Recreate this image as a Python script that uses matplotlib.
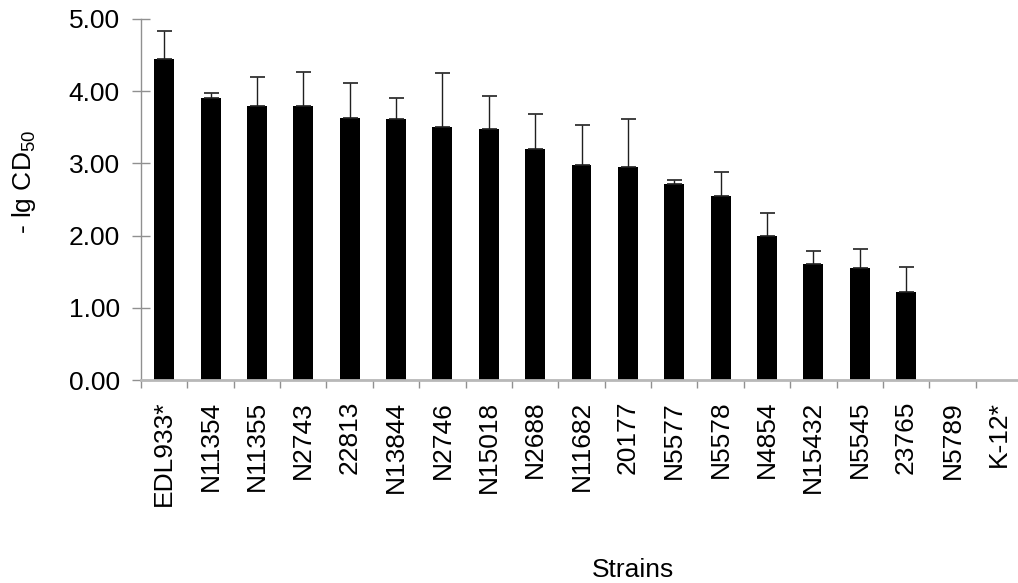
import numpy as np
import matplotlib
matplotlib.use("Agg")
import matplotlib.pyplot as plt

plt.rcParams['font.family'] = ['Liberation Sans', 'DejaVu Sans']
plt.rcParams['mathtext.fontset'] = 'custom'
plt.rcParams['mathtext.rm'] = 'Liberation Sans'

strains = ["EDL933*", "N11354", "N11355", "N2743", "22813", "N13844", "N2746",
           "N15018", "N2688", "N11682", "20177", "N5577", "N5578", "N4854",
           "N15432", "N5545", "23765", "N5789", "K-12*"]
values = [4.44, 3.90, 3.80, 3.79, 3.63, 3.61, 3.51, 3.47, 3.20, 2.98, 2.95,
          2.72, 2.55, 2.00, 1.61, 1.55, 1.22, 0.0, 0.0]
errors = [0.39, 0.08, 0.40, 0.48, 0.48, 0.30, 0.74, 0.46, 0.49, 0.55, 0.67,
          0.05, 0.33, 0.31, 0.18, 0.27, 0.35, 0.0, 0.0]

W, H = 1018, 583
FS = 19
fig = plt.figure(figsize=(W / 100, H / 100), dpi=100)
ax = fig.add_axes([141 / W, (H - 380) / H, (1022 - 141) / W, (380 - 19) / H])

x = np.arange(len(strains))
err = np.array(errors)
has_err = err > 0
ax.bar(x, values, width=0.43, color="black", zorder=2)
ax.errorbar(x[has_err], np.array(values)[has_err],
            yerr=[np.zeros(has_err.sum()), err[has_err]],
            fmt="none", ecolor="#202020", elinewidth=1, capsize=5.4,
            capthick=1.2, zorder=3)

ax.set_xlim(-0.5, len(strains) - 0.5)
ax.set_ylim(0, 5)
ax.set_yticks(np.arange(0, 5.01, 1))
ax.set_yticklabels(["%.2f" % v for v in np.arange(0, 5.01, 1)])

# labels at category centres, tick marks at boundaries
ax.set_xticks(x)
ax.set_xticklabels(strains, rotation=90, va="top", ha="center")
ax.set_xticks(np.arange(-0.5, len(strains), 1), minor=True)
ax.tick_params(axis="x", which="major", length=0, pad=15, labelsize=FS)
ax.tick_params(axis="x", which="minor", length=5.8, width=1,
               color="#909090", direction="out")
ax.tick_params(axis="y", length=12.5, width=1, color="#909090",
               direction="inout", pad=9, labelsize=FS)

for s in ["top", "right"]:
    ax.spines[s].set_visible(False)
ax.spines["left"].set_color("#909090")
ax.spines["left"].set_linewidth(1)
ax.spines["bottom"].set_color("#b8b8b8")
ax.spines["bottom"].set_linewidth(2)
ax.spines["bottom"].set_zorder(4)

fig.text(24 / W, 1 - 182 / H, r"- lg CD$_{\mathregular{50}}$", rotation=90,
         ha="center", va="center", fontsize=FS)
fig.text(633 / W, 1 - 570 / H, "Strains", ha="center", va="center",
         fontsize=FS)

fig.savefig("out.png", dpi=100)
